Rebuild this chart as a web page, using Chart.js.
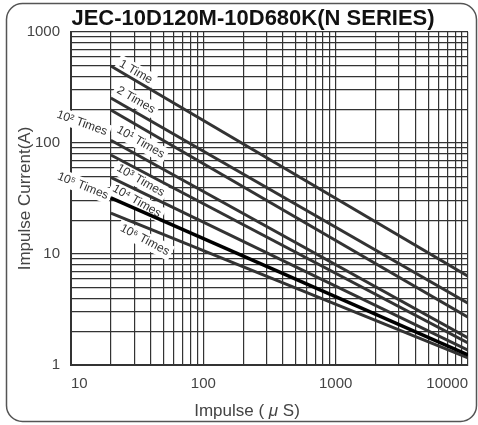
<!DOCTYPE html>
<html>
<head>
<meta charset="utf-8">
<script src="https://cdn.jsdelivr.net/npm/chart.js@4/dist/chart.umd.min.js"></script>
<style>
  html, body { margin: 0; padding: 0; background: #fff; }
  #wrap { width: 478px; height: 425px; position: relative; }
</style>
</head>
<body>
<div id="wrap"><canvas id="chart"></canvas></div>
<script>
/* ================= DATA ================= */
const impulseUs = [20, 10000];

const seriesNames = ["1 Time", "2 Times", "10 Times", "10² Times", "10³ Times", "10⁴ Times", "10⁵ Times", "10⁶ Times"];
const times1   = [494, 6.3];
const times2   = [254, 3.6];
const times1e1 = [198, 2.7];
const times1e2 = [106, 1.75];
const times1e3 = [78, 1.58];
const times1e4 = [49, 1.36];
const times1e5 = [32, 1.23];
const times1e6 = [23.4, 1.16];

const xTickValues = [10, 100, 1000, 10000];
const xTickLabels = ["10", "100", "1000", "10000"];
const yTickValues = [1, 10, 100, 1000];
const yTickLabels = ["1", "10", "100", "1000"];

const chartTitle = "JEC-10D120M-10D680K(N SERIES)";
const yTitle = "Impulse Current(A)";

/* ================= STYLE ================= */
const FONT = "'Liberation Sans', Arial, sans-serif";
const allSeries = [times1, times2, times1e1, times1e2, times1e3, times1e4, times1e5, times1e6];
const boldIndex = 6;

// curve labels as drawn on the sheet: text, x, y (data units), angle
const curveLabels = [
  ["1 Time", 30.9, 436, 30],
  ["2 Times", 30.9, 244, 30],
  ["10² Times", 12.1, 151, 20],
  ["10¹ Times", 33.6, 102, 30],
  ["10³ Times", 33.6, 46, 30],
  ["10⁵ Times", 12.3, 41, 22],
  ["10⁴ Times", 31.4, 30, 30],
  ["10⁶ Times", 36.1, 13.4, 28]
];

function logGrid(lo, hi) {
  const out = [];
  for (let d = lo; d < hi; d *= 10) {
    for (let k = 1; k <= 9; k++) out.push(k * d);
  }
  out.push(hi);
  return out;
}

function tickText(values, labels) {
  return value => {
    const i = values.findIndex(v => Math.abs(v - value) < v * 1e-6);
    return i >= 0 ? labels[i] : "";
  };
}

/* ================= DECOR PLUGIN ================= */
const decor = {
  id: "decor",
  beforeDraw(chart) {
    const ctx = chart.ctx;
    ctx.save();
    ctx.fillStyle = "#fff";
    ctx.fillRect(0, 0, chart.width, chart.height);
    ctx.strokeStyle = "#555";
    ctx.lineWidth = 1.5;
    ctx.beginPath();
    ctx.roundRect(6.5, 3.5, 470, 418, 16);
    ctx.stroke();
    ctx.restore();
  },
  beforeDatasetsDraw(chart) {
    const ctx = chart.ctx;
    const xs = chart.scales.x, ys = chart.scales.y;
    ctx.save();
    ctx.font = "12px " + FONT;
    ctx.textAlign = "center";
    ctx.textBaseline = "middle";
    curveLabels.forEach(([text, xv, yv, ang]) => {
      const px = xs.getPixelForValue(xv);
      const py = ys.getPixelForValue(yv);
      const w = ctx.measureText(text).width;
      ctx.save();
      ctx.translate(px, py);
      ctx.rotate(ang * Math.PI / 180);
      ctx.fillStyle = "#fff";
      ctx.fillRect(-w / 2 - 3, -8, w + 6, 16);
      ctx.fillStyle = "#333";
      ctx.fillText(text, 0, 0);
      ctx.restore();
    });
    ctx.restore();
  },
  afterDraw(chart) {
    const ctx = chart.ctx;
    ctx.save();
    ctx.fillStyle = "#111";
    ctx.font = "bold 22px " + FONT;
    ctx.textAlign = "center";
    ctx.textBaseline = "middle";
    ctx.fillText(chartTitle, 253, 19);

    // x axis title: Impulse ( μ S) with italic mu
    const parts = [["Impulse ( ", "17px "], ["μ", "italic 17px "], [" S)", "17px "]];
    let total = 0;
    parts.forEach(p => { ctx.font = p[1] + FONT; total += ctx.measureText(p[0]).width; });
    let x = 247 - total / 2;
    ctx.fillStyle = "#444";
    ctx.textAlign = "left";
    parts.forEach(p => {
      ctx.font = p[1] + FONT;
      ctx.fillText(p[0], x, 411);
      x += ctx.measureText(p[0]).width;
    });
    ctx.restore();
  }
};

/* ================= CHART ================= */
const datasets = allSeries.map((arr, i) => ({
  label: seriesNames[i],
  data: impulseUs.map((x, j) => ({ x: x, y: arr[j] })),
  borderColor: i === boldIndex ? "#000" : "#333",
  borderWidth: i === boldIndex ? 3.5 : 3,
  pointRadius: 0,
  tension: 0,
  fill: false
}));

new Chart(document.getElementById("chart"), {
  type: "line",
  data: { datasets },
  plugins: [decor],
  options: {
    responsive: true,
    maintainAspectRatio: false,
    animation: false,
    devicePixelRatio: 1,
    layout: { padding: { top: 32, right: 9, bottom: 0, left: 0 } },
    plugins: {
      legend: { display: false },
      title: { display: false },
      tooltip: { enabled: false }
    },
    scales: {
      x: {
        type: "logarithmic",
        position: "bottom",
        min: 10,
        max: 10000,
        afterBuildTicks: s => { s.ticks = logGrid(10, 10000).map(v => ({ value: v })); },
        afterFit: s => { s.height = 60; },
        grid: { color: "#333", lineWidth: 1.2, drawTicks: false },
        border: { color: "#333", width: 2 },
        ticks: {
          autoSkip: false,
          maxRotation: 0,
          align: "inner",
          padding: 10,
          color: "#444",
          font: { size: 15, family: FONT },
          callback: tickText(xTickValues, xTickLabels)
        }
      },
      y: {
        type: "logarithmic",
        position: "left",
        min: 1,
        max: 1000,
        afterBuildTicks: s => { s.ticks = logGrid(1, 1000).map(v => ({ value: v })); },
        afterFit: s => { s.width = 71; },
        grid: { color: "#333", lineWidth: 1.2, drawTicks: false },
        border: { color: "#333", width: 2 },
        ticks: {
          autoSkip: false,
          padding: 11,
          color: "#444",
          font: { size: 15, family: FONT },
          callback: tickText(yTickValues, yTickLabels)
        },
        title: {
          display: true,
          text: yTitle,
          color: "#444",
          font: { size: 17, family: FONT },
          padding: { top: 15, bottom: 0 }
        }
      }
    }
  }
});
</script>
</body>
</html>
